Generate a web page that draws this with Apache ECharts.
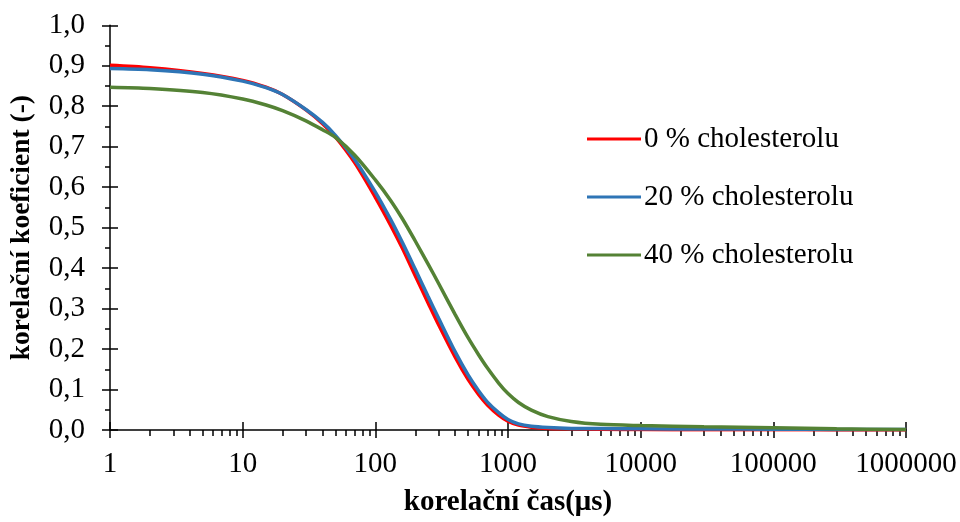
<!DOCTYPE html>
<html>
<head>
<meta charset="utf-8">
<script src="https://cdn.jsdelivr.net/npm/echarts@6/dist/echarts.min.js"></script>
<style>
html,body{margin:0;padding:0;background:#fff;}
#chart{width:960px;height:522px;}
</style>
</head>
<body>
<div id="chart"></div>
<script>
// correlation time (µs)
const tau = [1, 2, 5, 10, 15, 20, 30, 40, 50, 70, 100, 130, 160, 200, 250, 300, 400, 500, 600, 700, 850, 1000, 1200, 1500, 2000, 3000, 5000, 10000, 30000, 100000, 300000, 1000000];
const chol0  = [0.901, 0.895, 0.881, 0.864, 0.847, 0.829, 0.791, 0.757, 0.724, 0.660, 0.575, 0.507, 0.449, 0.381, 0.314, 0.260, 0.180, 0.125, 0.088, 0.062, 0.037, 0.022, 0.012, 0.007, 0.004, 0.003, 0.002, 0.001, 0.0008, 0.0005, 0.0003, 0.0];
const chol20 = [0.893, 0.890, 0.879, 0.862, 0.846, 0.829, 0.792, 0.760, 0.728, 0.668, 0.588, 0.521, 0.463, 0.397, 0.330, 0.276, 0.193, 0.136, 0.097, 0.069, 0.043, 0.026, 0.015, 0.009, 0.006, 0.004, 0.0035, 0.003, 0.0025, 0.002, 0.0015, 0.001];
const chol40 = [0.847, 0.844, 0.834, 0.818, 0.803, 0.789, 0.764, 0.742, 0.723, 0.679, 0.618, 0.568, 0.522, 0.467, 0.410, 0.362, 0.285, 0.228, 0.186, 0.153, 0.116, 0.090, 0.068, 0.049, 0.033, 0.021, 0.014, 0.011, 0.008, 0.0055, 0.003, 0.001];
const seriesNames = ['0 % cholesterolu', '20 % cholesterolu', '40 % cholesterolu'];
const xTickLabels = ['1', '10', '100', '1000', '10000', '100000', '1000000'];
const xMinorTicks = [2,3,4,5,6,7,8,9,20,30,40,50,60,70,80,90,200,300,400,500,600,700,800,900,2000,3000,4000,5000,6000,7000,8000,9000,20000,30000,40000,50000,60000,70000,80000,90000,200000,300000,400000,500000,600000,700000,800000,900000];

const colors = ['#FF0000', '#2E75B6', '#548235'];
const FONT = 'Liberation Serif';
const FS = 29;
const pairs = (ys) => tau.map((t, i) => [t, ys[i]]);

const chart = echarts.init(document.getElementById('chart'), null, {renderer: 'canvas'});
const grid = {left: 108.5, right: 54, top: 25.3, bottom: 91.5, containLabel: false};
const blackLine = {color: '#000', width: 1.5};

chart.setOption({
  animation: false,
  backgroundColor: '#fff',
  grid: grid,
  legend: {
    orient: 'vertical',
    left: 587,
    top: 123,
    padding: 0,
    icon: 'rect',
    itemWidth: 54,
    itemHeight: 3,
    itemGap: 26,
    textStyle: {fontFamily: FONT, fontSize: FS, color: '#000', lineHeight: 32, padding: [0, 0, 0, -2]},
    data: seriesNames
  },
  xAxis: [
    {
      type: 'log', logBase: 10, min: 1, max: 1000000, position: 'bottom',
      axisLine: {onZero: false, lineStyle: blackLine},
      axisTick: {show: true, length: 8, lineStyle: blackLine},
      axisLabel: {fontFamily: FONT, fontSize: FS, color: '#000', margin: 20,
        formatter: (v) => xTickLabels[Math.round(Math.log10(v))]},
      splitLine: {show: false},
      name: 'korelační čas(μs)', nameLocation: 'middle', nameGap: 58,
      nameTextStyle: {fontFamily: FONT, fontSize: FS, fontWeight: 'bold', color: '#000'}
    },
    {
      type: 'log', logBase: 10, min: 1, max: 1000000, position: 'bottom',
      axisLine: {show: false, onZero: false},
      axisTick: {show: true, inside: true, length: 8, lineStyle: blackLine},
      axisLabel: {show: false}, splitLine: {show: false}
    },
    {
      type: 'value', min: 0, max: 6, position: 'bottom',
      axisLine: {show: false, onZero: false},
      axisTick: {show: true, length: 6, lineStyle: blackLine, customValues: xMinorTicks.map(v => Math.log10(v))},
      axisLabel: {show: false}, splitLine: {show: false}
    }
  ],
  yAxis: [
    {
      type: 'value', min: 0, max: 1, interval: 0.1, position: 'left',
      axisLine: {show: true, onZero: false, lineStyle: blackLine},
      axisTick: {show: true, length: 8, lineStyle: blackLine},
      minorTick: {show: true, splitNumber: 2, length: 5, lineStyle: blackLine},
      axisLabel: {fontFamily: FONT, fontSize: FS, color: '#000', margin: 25,
        formatter: (v) => v.toFixed(1).replace('.', ',')},
      splitLine: {show: false},
      name: 'korelační koeficient (-)', nameLocation: 'middle', nameGap: 74,
      nameTextStyle: {fontFamily: FONT, fontSize: 27.5, fontWeight: 'bold', color: '#000'}
    },
    {
      type: 'value', min: 0, max: 1, interval: 0.1, position: 'left',
      axisLine: {show: false, onZero: false},
      axisTick: {show: true, inside: true, length: 8, lineStyle: blackLine},
      axisLabel: {show: false}, splitLine: {show: false}
    }
  ],
  series: [chol0, chol20, chol40].map((ys, i) => ({
    name: seriesNames[i],
    type: 'line',
    xAxisIndex: 0, yAxisIndex: 0,
    data: pairs(ys),
    smooth: 0.3,
    showSymbol: false,
    symbol: 'none',
    color: colors[i],
    lineStyle: {color: colors[i], width: 3.5},
    z: 2 + i
  }))
});
</script>
</body>
</html>
